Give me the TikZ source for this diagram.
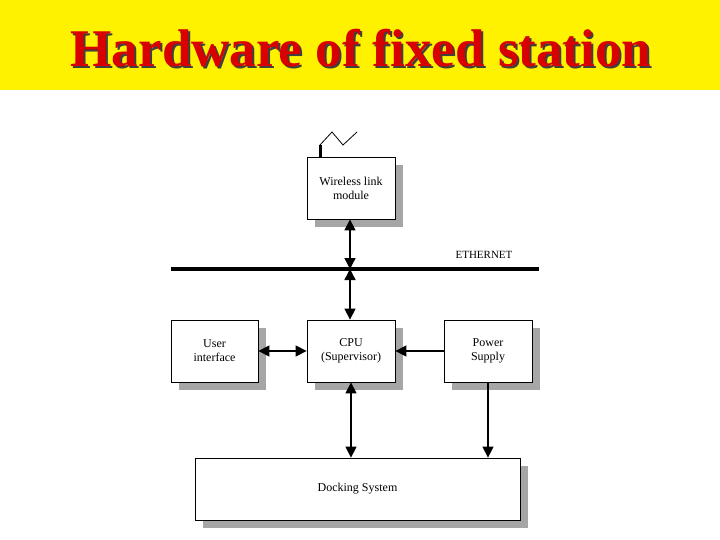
\documentclass[tikz,border=0pt]{standalone}
\usepackage{fontspec}
\setmainfont{Liberation Serif}
\usetikzlibrary{arrows.meta}
\begin{document}
\begin{tikzpicture}[x=1pt,y=-1pt,
  blk/.style={draw,fill=white,line width=0.8pt,minimum width=88pt,minimum height=62pt,align=center,font=\fontsize{12}{14}\selectfont,inner sep=0pt},
  shd/.style={fill=gray!70,draw=none},
  conn/.style={line width=1.4pt,{Triangle[length=11pt,width=11pt]}-{Triangle[length=11pt,width=11pt]}},
  oneway/.style={line width=1.4pt,-{Triangle[length=11pt,width=11pt]}}]
\useasboundingbox (0,0) rectangle (720,540);
\fill[yellow] (0,0) rectangle (720,90);
\node[text=black!75,font=\bfseries\fontsize{53}{56}\selectfont] (ts) at (363,50) {Hardware of fixed station};
\node[text=red!85!black,font=\bfseries\fontsize{53}{56}\selectfont] (title) at (361,48) {Hardware of fixed station};
% shadows
\fill[shd] (315,165) rectangle (403,227);
\fill[shd] (179,328) rectangle (266,390);
\fill[shd] (315,328) rectangle (403,390);
\fill[shd] (452,328) rectangle (540,390);
\fill[shd] (203,466) rectangle (528,528);
\node[blk] (wl) at (351,188) {Wireless link\\module};
\node[blk,minimum width=87pt] (ui) at (214.5,351) {User\\interface};
\node[blk] (cpu) at (351,351) {CPU\\(Supervisor)};
\node[blk] (ps) at (488,351) {Power\\Supply};
\node[blk,minimum width=325pt] (dock) at (357.5,489) {Docking System};
% antenna
\coordinate (a0) at (320,157);
\coordinate (a1) at (320,145);
\draw[line width=3pt] (a0) -- (a1);
\draw[line width=0.8pt] (a1) -- (332,132) -- (343,145) -- (357,132);
% ethernet
\coordinate (e1) at (171,269);
\coordinate (e2) at (539,269);
\coordinate (ex) at (350,269);
\draw[line width=4pt] (e1) -- (e2);
\node[font=\fontsize{11}{13}\selectfont] (elab) at (484,255) {ETHERNET};
\draw[conn] (wl.south -| ex) -- (ex);
\draw[conn] (ex) -- (cpu.north -| ex);
\draw[conn] (ui.east) -- (cpu.west);
\draw[oneway] (ps.west) -- (cpu.east);
\draw[conn] (cpu.south) -- (cpu.south |- dock.north);
\draw[oneway] (ps.south) -- (ps.south |- dock.north);
\end{tikzpicture}
\end{document}
